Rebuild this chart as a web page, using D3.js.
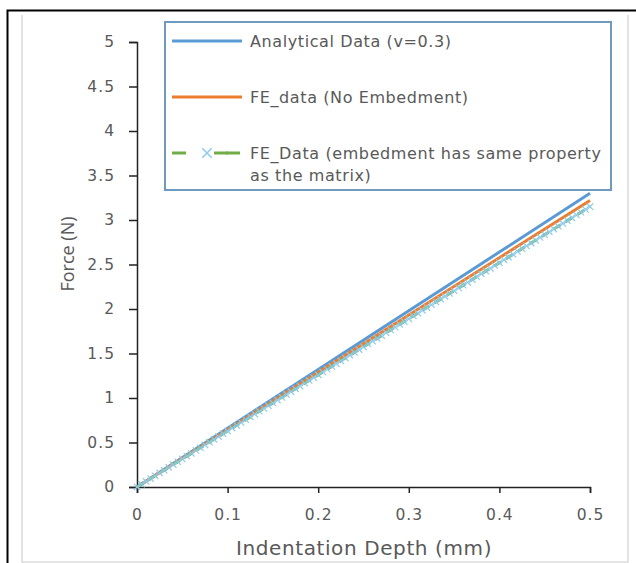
<!DOCTYPE html>
<html lang="en">
<head>
<meta charset="UTF-8">
<title>Force vs Indentation Depth</title>
<script src="https://cdn.jsdelivr.net/npm/d3@7/dist/d3.min.js"></script>
<style>
  body { margin: 0; background: #fff; }
  svg text { font-family: "DejaVu Sans", "Open Sans", sans-serif; fill: #595959; }
</style>
</head>
<body>
<div id="chart"></div>
<script>
const width = 636;
const height = 563;
const margin = { top: 42, right: 46, bottom: 76, left: 137 };

// analytical solution (v=0.3)
const analyticalDepth = [0, 0.1, 0.2, 0.3, 0.4, 0.5];
const analyticalForce = [0, 0.66, 1.32, 1.98, 2.64, 3.30];

// FE, no embedment
const feNoEmbDepth = [0, 0.1, 0.2, 0.3, 0.4, 0.5];
const feNoEmbForce = [0, 0.644, 1.288, 1.932, 2.576, 3.22];

// FE, embedment same property as matrix
const feSameDepth = [
  0, 0.005, 0.01, 0.015, 0.02, 0.025, 0.03, 0.035, 0.04, 0.045,
  0.05, 0.055, 0.06, 0.065, 0.07, 0.075, 0.08, 0.085, 0.09, 0.095,
  0.1, 0.105, 0.11, 0.115, 0.12, 0.125, 0.13, 0.135, 0.14, 0.145,
  0.15, 0.155, 0.16, 0.165, 0.17, 0.175, 0.18, 0.185, 0.19, 0.195,
  0.2, 0.205, 0.21, 0.215, 0.22, 0.225, 0.23, 0.235, 0.24, 0.245,
  0.25, 0.255, 0.26, 0.265, 0.27, 0.275, 0.28, 0.285, 0.29, 0.295,
  0.3, 0.305, 0.31, 0.315, 0.32, 0.325, 0.33, 0.335, 0.34, 0.345,
  0.35, 0.355, 0.36, 0.365, 0.37, 0.375, 0.38, 0.385, 0.39, 0.395,
  0.4, 0.405, 0.41, 0.415, 0.42, 0.425, 0.43, 0.435, 0.44, 0.445,
  0.45, 0.455, 0.46, 0.465, 0.47, 0.475, 0.48, 0.485, 0.49, 0.495,
  0.5
];
const feSameForce = [
  0, 0.032, 0.063, 0.095, 0.126, 0.158, 0.189, 0.221, 0.252, 0.284,
  0.315, 0.347, 0.378, 0.410, 0.441, 0.473, 0.504, 0.536, 0.567, 0.599,
  0.630, 0.662, 0.693, 0.725, 0.756, 0.788, 0.819, 0.851, 0.882, 0.914,
  0.945, 0.977, 1.008, 1.040, 1.071, 1.103, 1.134, 1.166, 1.197, 1.229,
  1.260, 1.292, 1.323, 1.355, 1.386, 1.418, 1.449, 1.481, 1.512, 1.544,
  1.575, 1.607, 1.638, 1.670, 1.701, 1.733, 1.764, 1.796, 1.827, 1.859,
  1.890, 1.922, 1.953, 1.985, 2.016, 2.048, 2.079, 2.111, 2.142, 2.174,
  2.205, 2.237, 2.268, 2.300, 2.331, 2.363, 2.394, 2.426, 2.457, 2.489,
  2.520, 2.552, 2.583, 2.615, 2.646, 2.678, 2.709, 2.741, 2.772, 2.804,
  2.835, 2.867, 2.898, 2.930, 2.961, 2.993, 3.024, 3.056, 3.087, 3.119,
  3.150
];

const xTicks = [0, 0.1, 0.2, 0.3, 0.4, 0.5];
const yTicks = [0, 0.5, 1, 1.5, 2, 2.5, 3, 3.5, 4, 4.5, 5];

const legendLabels = [
  ['Analytical Data (v=0.3)'],
  ['FE_data (No Embedment)'],
  ['FE_Data (embedment has same property', 'as the matrix)']
];

const svg = d3.select('#chart').append('svg')
  .attr('width', width)
  .attr('height', height);

svg.append('rect').attr('width', width).attr('height', height).attr('fill', '#fff');

// page frame (screenshot edges)
svg.append('path')
  .attr('d', 'M22,15 V562 H628 V15')
  .attr('fill', 'none')
  .attr('stroke', '#dcdcdc')
  .attr('stroke-width', 1.5);
svg.append('path')
  .attr('d', 'M7.5,563 V10.5 H636')
  .attr('fill', 'none')
  .attr('stroke', '#000')
  .attr('stroke-width', 2);

const x = d3.scaleLinear().domain([0, 0.5]).range([margin.left, width - margin.right]);
const y = d3.scaleLinear().domain([0, 5]).range([height - margin.bottom, margin.top]);

// axes
const xAxis = svg.append('g')
  .attr('transform', `translate(0,${y(0)})`)
  .call(d3.axisBottom(x).tickValues(xTicks).tickSize(6).tickPadding(16).tickFormat(d => d));
const yAxis = svg.append('g')
  .attr('transform', `translate(${x(0)},0)`)
  .call(d3.axisLeft(y).tickValues(yTicks).tickSize(8).tickPadding(14).tickFormat(d => d));

[xAxis, yAxis].forEach(g => {
  g.select('.domain').attr('stroke', '#222').attr('stroke-width', 1.5);
  g.selectAll('.tick line').attr('stroke', '#222').attr('stroke-width', 1.5);
  g.selectAll('.tick text')
    .style('font-family', '"DejaVu Sans", sans-serif')
    .style('font-size', '15.5px')
    .style('letter-spacing', '1px')
    .attr('fill', '#595959');
});

// axis titles
svg.append('text')
  .attr('x', 364).attr('y', 555)
  .attr('text-anchor', 'middle')
  .style('font-size', '20px')
  .style('letter-spacing', '0.6px')
  .text('Indentation Depth (mm)');
svg.append('text')
  .attr('transform', 'translate(74,254) rotate(-90)')
  .attr('text-anchor', 'middle')
  .style('font-family', '"Open Sans", sans-serif')
  .style('font-size', '18px')
  .text('Force (N)');

const line = d3.line().x(d => x(d[0])).y(d => y(d[1]));

// series
svg.append('path')
  .datum(d3.zip(analyticalDepth, analyticalForce))
  .attr('d', line)
  .attr('fill', 'none')
  .attr('stroke', '#5b9bd5')
  .attr('stroke-width', 3);

svg.append('path')
  .datum(d3.zip(feNoEmbDepth, feNoEmbForce))
  .attr('d', line)
  .attr('fill', 'none')
  .attr('stroke', '#ed7d31')
  .attr('stroke-width', 3);

const sameData = d3.zip(feSameDepth, feSameForce);
svg.append('path')
  .datum(sameData)
  .attr('d', line)
  .attr('fill', 'none')
  .attr('stroke', '#70ad47')
  .attr('stroke-width', 3)
  .attr('stroke-dasharray', '8,6');

const cross = d3.symbol().type(d3.symbolX).size(28);
svg.append('g')
  .selectAll('path')
  .data(sameData)
  .join('path')
  .attr('transform', d => `translate(${x(d[0])},${y(d[1])})`)
  .attr('d', cross)
  .attr('fill', 'none')
  .attr('stroke', '#8ccbea')
  .attr('stroke-width', 1.2);

// legend
const legend = svg.append('g');
legend.append('rect')
  .attr('x', 165).attr('y', 22)
  .attr('width', 446).attr('height', 168)
  .attr('fill', '#fff')
  .attr('stroke', '#6f9ac0')
  .attr('stroke-width', 2);

const rowY = [41, 97, 153];
legend.append('line')
  .attr('x1', 172).attr('x2', 242).attr('y1', rowY[0]).attr('y2', rowY[0])
  .attr('stroke', '#5b9bd5').attr('stroke-width', 3);
legend.append('line')
  .attr('x1', 172).attr('x2', 242).attr('y1', rowY[1]).attr('y2', rowY[1])
  .attr('stroke', '#ed7d31').attr('stroke-width', 3);
legend.append('line')
  .attr('x1', 172).attr('x2', 242).attr('y1', rowY[2]).attr('y2', rowY[2])
  .attr('stroke', '#70ad47').attr('stroke-width', 3)
  .attr('stroke-dasharray', '14,40');
legend.append('line')
  .attr('x1', 214).attr('x2', 228).attr('y1', rowY[2]).attr('y2', rowY[2])
  .attr('stroke', '#70ad47').attr('stroke-width', 3);
legend.append('path')
  .attr('transform', `translate(207,${rowY[2]})`)
  .attr('d', d3.symbol().type(d3.symbolX).size(60))
  .attr('fill', 'none')
  .attr('stroke', '#8ccbea')
  .attr('stroke-width', 1.5);

legendLabels.forEach((lines, i) => {
  lines.forEach((t, j) => {
    legend.append('text')
      .attr('x', 250)
      .attr('y', rowY[i] + 6 + j * 22)
      .style('font-size', '16px')
      .style('letter-spacing', '0.6px')
      .text(t);
  });
});
</script>
</body>
</html>
